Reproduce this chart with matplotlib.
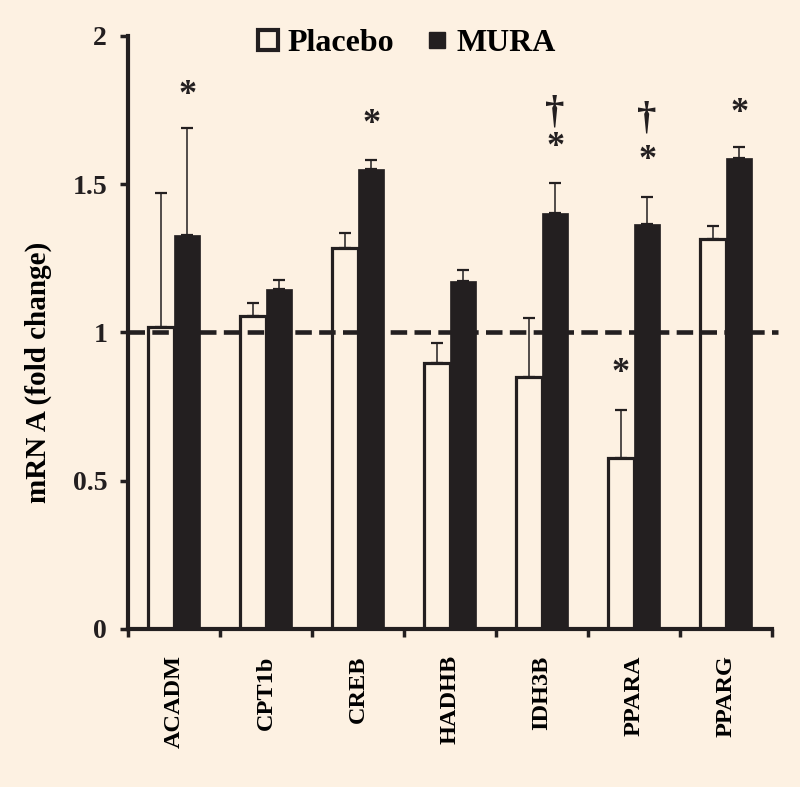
import matplotlib
matplotlib.use("Agg")
from matplotlib import pyplot as plt
from matplotlib.lines import Line2D
import numpy as np

genes = ['ACADM', 'CPT1b', 'CREB', 'HADHB', 'IDH3B', 'PPARA', 'PPARG']
placebo = [1.02, 1.055, 1.285, 0.897, 0.85, 0.575, 1.315]
placebo_err = [0.45, 0.045, 0.05, 0.068, 0.20, 0.165, 0.045]
mura = [1.33, 1.145, 1.553, 1.172, 1.403, 1.365, 1.59]
mura_err = [0.36, 0.032, 0.027, 0.04, 0.10, 0.093, 0.035]

# significance marks: (gene index, series, symbol, y)
marks = [
    (0, 'mura', '*', 1.80),
    (2, 'mura', '*', 1.70),
    (4, 'mura', '*', 1.625),
    (4, 'mura', '\u2020', 1.74),
    (5, 'placebo', '*', 0.86),
    (5, 'mura', '*', 1.58),
    (5, 'mura', '\u2020', 1.72),
    (6, 'mura', '*', 1.74),
]

bg = '#FDF1E2'
ink = '#231F20'
plt.rcParams['font.family'] = ['Liberation Serif', 'DejaVu Serif']
plt.rcParams['font.weight'] = 'bold'

fig = plt.figure(figsize=(8, 7.87), dpi=100, facecolor=bg)
ax = fig.add_axes([0.16, 0.2008, 0.805, 0.7535])
ax.set_facecolor(bg)

x = np.arange(len(genes)) + 0.5
w = 0.285
xp = x - w / 2
xm = x + w / 2

ax.bar(xp, placebo, w, facecolor='none', edgecolor=ink, linewidth=2.3, zorder=3)
ax.bar(xm, mura, w, color=ink, edgecolor=ink, linewidth=0.5, zorder=3)
ax.errorbar(xp, placebo, yerr=[np.zeros(len(genes)), placebo_err], fmt='none',
            ecolor=ink, elinewidth=1.1, capsize=4, capthick=1.6, zorder=2)
ax.errorbar(xm, mura, yerr=[np.zeros(len(genes)), mura_err], fmt='none',
            ecolor=ink, elinewidth=1.1, capsize=4, capthick=1.6, zorder=2)

ax.axhline(1, color=ink, linestyle=(0, (3.6, 1.6)), linewidth=3.3, zorder=4,
           xmin=0, xmax=1.01, clip_on=False)

for i, series, sym, yv in marks:
    xx = xp[i] if series == 'placebo' else xm[i]
    fs = 26 if sym == '*' else 28
    ax.text(xx, yv, sym, ha='center', va='center', fontsize=fs,
            fontweight='bold', color=ink)

ax.set_xlim(0, 7)
ax.set_ylim(0, 2)
ax.set_yticks([0, 0.5, 1, 1.5, 2])
ax.set_yticklabels(['0', '0.5', '1', '1.5', '2'], fontsize=20, fontweight='bold')
ax.set_xticks(np.arange(8))
ax.set_xticklabels([])
ax.set_xticks(x, minor=True)
ax.set_xticklabels(genes, minor=True, rotation=90, fontsize=17.5, fontweight='bold',
                   va='top')
ax.tick_params(axis='x', which='minor', length=0, pad=19)
ax.tick_params(axis='both', which='major', direction='out', length=6, width=2.5,
               color=ink, labelcolor=ink)
ax.tick_params(axis='y', pad=9)
for s in ['top', 'right']:
    ax.spines[s].set_visible(False)
for s in ['left', 'bottom']:
    ax.spines[s].set_linewidth(3)
    ax.spines[s].set_color(ink)

ax.set_ylabel('mRN A (fold change)', fontsize=21, fontweight='bold')
ax.yaxis.set_label_coords(-0.118, 0.433)

handles = [
    Line2D([], [], marker='s', linestyle='none', markersize=14,
           markerfacecolor='none', markeredgecolor=ink, markeredgewidth=3),
    Line2D([], [], marker='s', linestyle='none', markersize=11,
           markerfacecolor=ink, markeredgecolor=ink),
]
fig.legend(handles, ['Placebo', 'MURA'], loc='upper center', ncol=2,
           bbox_to_anchor=(0.506, 1.0), frameon=False,
           prop={'size': 23, 'weight': 'bold'}, handletextpad=0.15,
           columnspacing=0.9, handlelength=0.9)

fig.savefig('out.png', dpi=100, facecolor=bg)
